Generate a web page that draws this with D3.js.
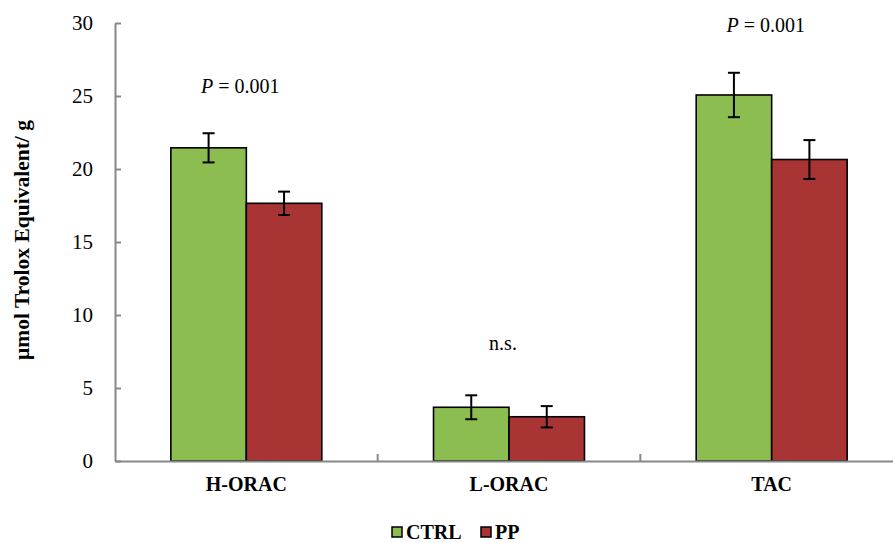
<!DOCTYPE html>
<html>
<head>
<meta charset="utf-8">
<script src="https://cdn.jsdelivr.net/npm/d3@7"></script>
<style>
  body { margin: 0; background: #fff; }
  svg { display: block; }
</style>
</head>
<body>
<svg id="chart" width="893" height="543"></svg>
<script>
const categories = ["H-ORAC", "L-ORAC", "TAC"];
const seriesNames = ["CTRL", "PP"];
const ctrlValues = [21.45, 3.68, 25.07];
const ppValues = [17.65, 3.03, 20.65];
const ctrlErrors = [1.0, 0.82, 1.52];
const ppErrors = [0.8, 0.73, 1.33];
const yTicks = [0, 5, 10, 15, 20, 25, 30];
const annotations = [
  { italic: "P", rest: " = 0.001" },
  { italic: "", rest: "n.s." },
  { italic: "P", rest: " = 0.001" }
];
const annotationLevels = [25.2, 7.6, 29.4];
const colors = { CTRL: "#8cbd50", PP: "#a93434" };

const FONT = "Liberation Serif";
const svg = d3.select("#chart");
const axisColor = "#888888";
const x0 = 115, x1 = 903, yTop = 23, yBot = 461;

const x = d3.scaleBand().domain(categories).range([x0, x1]).padding(0);
const xs = d3.scaleBand().domain(seriesNames).range([0, x.bandwidth()]).paddingInner(0).paddingOuter(0.74);
const y = d3.scaleLinear().domain([0, 30]).range([yBot, yTop]);

const data = categories.map((c, i) => ({
  cat: c,
  vals: [
    { s: "CTRL", v: ctrlValues[i], e: ctrlErrors[i] },
    { s: "PP", v: ppValues[i], e: ppErrors[i] }
  ]
}));

// Y axis
const yAxis = d3.axisLeft(y).tickValues(yTicks).tickSizeInner(-6).tickSizeOuter(0).tickPadding(22);
const gy = svg.append("g").attr("transform", `translate(${x0},0)`).call(yAxis);
gy.attr("font-family", FONT).attr("font-size", 21);
gy.select(".domain").attr("stroke", axisColor).attr("stroke-width", 2);
gy.selectAll(".tick line").attr("stroke", axisColor).attr("stroke-width", 2);
gy.selectAll(".tick text").attr("font-family", FONT).attr("font-size", 21).attr("fill", "#000");

// Bars
const groups = svg.append("g").selectAll("g").data(data).join("g")
  .attr("transform", d => `translate(${x(d.cat)},0)`);

groups.selectAll("rect").data(d => d.vals).join("rect")
  .attr("x", d => xs(d.s))
  .attr("y", d => y(d.v))
  .attr("width", xs.bandwidth())
  .attr("height", d => y(0) - y(d.v))
  .attr("fill", d => colors[d.s])
  .attr("stroke", "#000")
  .attr("stroke-width", 1.6);

// Error bars
const eb = groups.selectAll("g.err").data(d => d.vals).join("g").attr("class", "err");
eb.append("line")
  .attr("x1", d => xs(d.s) + xs.bandwidth() / 2)
  .attr("x2", d => xs(d.s) + xs.bandwidth() / 2)
  .attr("y1", d => y(d.v + d.e))
  .attr("y2", d => y(d.v - d.e))
  .attr("stroke", "#000").attr("stroke-width", 2);
eb.append("line")
  .attr("x1", d => xs(d.s) + xs.bandwidth() / 2 - 6)
  .attr("x2", d => xs(d.s) + xs.bandwidth() / 2 + 6)
  .attr("y1", d => y(d.v + d.e))
  .attr("y2", d => y(d.v + d.e))
  .attr("stroke", "#000").attr("stroke-width", 2);
eb.append("line")
  .attr("x1", d => xs(d.s) + xs.bandwidth() / 2 - 6)
  .attr("x2", d => xs(d.s) + xs.bandwidth() / 2 + 6)
  .attr("y1", d => y(d.v - d.e))
  .attr("y2", d => y(d.v - d.e))
  .attr("stroke", "#000").attr("stroke-width", 2);

// X axis
const xAxis = d3.axisBottom(x).tickSize(0).tickPadding(16);
const gx = svg.append("g").attr("transform", `translate(0,${yBot})`).call(xAxis);
gx.attr("font-family", FONT).attr("font-size", 20);
gx.select(".domain").attr("stroke", axisColor).attr("stroke-width", 2);
gx.selectAll(".tick text").attr("font-family", FONT).attr("font-size", 20).attr("font-weight", "bold").attr("fill", "#000");
// category boundary ticks (inward)
gx.selectAll("line.bound").data(categories.slice(1)).join("line").attr("class", "bound")
  .attr("x1", d => x(d)).attr("x2", d => x(d))
  .attr("y1", 0).attr("y2", -7)
  .attr("stroke", axisColor).attr("stroke-width", 2);

// Annotations
const ann = svg.append("g").selectAll("text").data(annotations).join("text")
  .attr("x", (d, i) => x(categories[i]) + x.bandwidth() / 2 - 6)
  .attr("y", (d, i) => y(annotationLevels[i]))
  .attr("text-anchor", "middle")
  .attr("font-family", FONT)
  .attr("font-size", 20)
  .attr("fill", "#000");
ann.append("tspan").attr("font-style", "italic").text(d => d.italic);
ann.append("tspan").text(d => d.rest);

// Y axis title
svg.append("text")
  .attr("transform", `translate(29,240) rotate(-90)`)
  .attr("text-anchor", "middle")
  .attr("font-family", FONT)
  .attr("font-size", 21.5).attr("font-weight", "bold")
  .attr("fill", "#000")
  .text("μmol Trolox Equivalent/ g");

// Legend
const legend = svg.append("g");
const legendX = [392, 481];
seriesNames.forEach((s, i) => {
  const g = legend.append("g").attr("transform", `translate(${legendX[i]},0)`);
  g.append("rect").attr("x", 0).attr("y", 527).attr("width", 10).attr("height", 10)
    .attr("fill", colors[s]).attr("stroke", "#000").attr("stroke-width", 1.5);
  g.append("text").attr("x", 14).attr("y", 539)
    .attr("font-family", FONT).attr("font-size", 20).attr("font-weight", "bold").attr("fill", "#000")
    .text(s);
});
</script>
</body>
</html>
